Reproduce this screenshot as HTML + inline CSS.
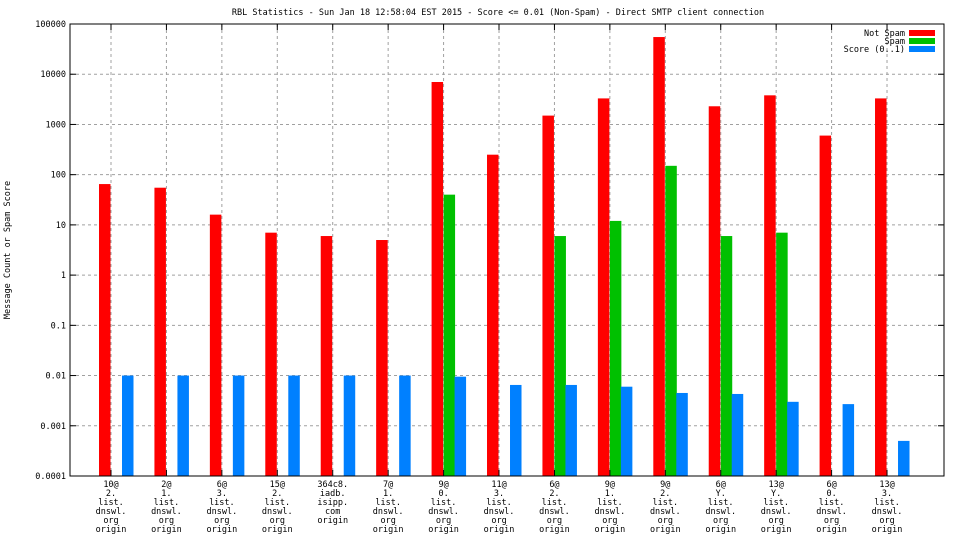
<!DOCTYPE html>
<html><head><meta charset="utf-8"><style>
body{margin:0;background:#fff}
svg{display:block;font-family:"DejaVu Sans Mono","Liberation Mono",monospace;font-size:8.5px}
</style></head><body>
<svg id="chart" width="960" height="540" viewBox="0 0 960 540">
<rect width="960" height="540" fill="#fff"/>
<text x="498" y="15" text-anchor="middle">RBL Statistics - Sun Jan 18 12:58:04 EST 2015 - Score &lt;= 0.01 (Non-Spam) - Direct SMTP client connection</text>
<text transform="translate(10,250) rotate(-90)" text-anchor="middle">Message Count or Spam Score</text>
<g id="grid"></g><g id="bars"></g><g id="axes"></g>
<g>
<text x="905" y="36" text-anchor="end">Not Spam</text><rect x="909" y="30" width="26" height="6" fill="#ff0000"/>
<text x="905" y="44" text-anchor="end">Spam</text><rect x="909" y="38" width="26" height="6" fill="#00c000"/>
<text x="905" y="52" text-anchor="end">Score (0..1)</text><rect x="909" y="46" width="26" height="6" fill="#0080ff"/>
</g>
</svg>
<script>
const categories=[["10@","2.","list.","dnswl.","org","origin"],["2@","1.","list.","dnswl.","org","origin"],["6@","3.","list.","dnswl.","org","origin"],["15@","2.","list.","dnswl.","org","origin"],["364c8.","iadb.","isipp.","com","origin"],["7@","1.","list.","dnswl.","org","origin"],["9@","0.","list.","dnswl.","org","origin"],["11@","3.","list.","dnswl.","org","origin"],["6@","2.","list.","dnswl.","org","origin"],["9@","1.","list.","dnswl.","org","origin"],["9@","2.","list.","dnswl.","org","origin"],["6@","Y.","list.","dnswl.","org","origin"],["13@","Y.","list.","dnswl.","org","origin"],["6@","0.","list.","dnswl.","org","origin"],["13@","3.","list.","dnswl.","org","origin"]];
const notSpam=[65,55,16,7,6,5,7000,250,1500,3300,55000,2300,3800,600,3300];
const spam=[0,0,0,0,0,0,40,0,6,12,150,6,7,0,0];
const score=[0.01,0.01,0.01,0.01,0.01,0.01,0.0095,0.0065,0.0065,0.006,0.0045,0.0043,0.003,0.0027,0.0005];
const yTicks=["0.0001","0.001","0.01","0.1","1","10","100","1000","10000","100000"];
const NS="http://www.w3.org/2000/svg";
const L=70,R=944,T=24,B=476;
const y=v=>B-(Math.log10(v)+4)/9*(B-T);
const x=i=>111+55.43*i;
function mk(tag,a,p){const e=document.createElementNS(NS,tag);for(const k in a)e.setAttribute(k,a[k]);p.appendChild(e);return e;}
const grid=document.getElementById('grid'),bars=document.getElementById('bars'),axes=document.getElementById('axes');
yTicks.forEach(t=>{const yy=y(+t);
const g=mk('line',{x1:L,x2:R,y1:yy,y2:yy,stroke:'#a0a0a0','stroke-dasharray':'3,3','stroke-width':1},grid);


const tx=mk('text',{x:L-4,y:yy+3,'text-anchor':'end'},axes);tx.textContent=t;


mk('line',{x1:L,x2:L+6,y1:yy,y2:yy,stroke:'#000'},axes);mk('line',{x1:R,x2:R-6,y1:yy,y2:yy,stroke:'#000'},axes);
});
categories.forEach((c,i)=>{const cx=x(i);
const g=mk('line',{x1:cx,x2:cx,y1:T,y2:B,stroke:'#a0a0a0','stroke-dasharray':'3,3'},grid);


mk('line',{x1:cx,x2:cx,y1:B,y2:B-6,stroke:'#000'},axes);mk('line',{x1:cx,x2:cx,y1:T,y2:T+6,stroke:'#000'},axes);
const t=mk('text',{x:cx,y:487,'text-anchor':'middle'},axes);


c.forEach((s,j)=>{const ts=mk('tspan',{x:cx,dy:j?9:0},t);ts.textContent=s;});
const defs=[[notSpam[i],cx-12,'#ff0000','bar-not-spam'],[spam[i],cx,'#00c000','bar-spam'],[score[i],cx+11,'#0080ff','bar-score']];
defs.forEach(d=>{if(!d[0])return;const yy=y(d[0]);
const r=mk('rect',{x:d[1],y:yy,width:11.5,height:B-yy,fill:d[2]},bars);

});
});
const f=mk('rect',{x:L,y:T,width:R-L,height:B-T,fill:'none',stroke:'#000'},axes);


</script>
</body></html>
